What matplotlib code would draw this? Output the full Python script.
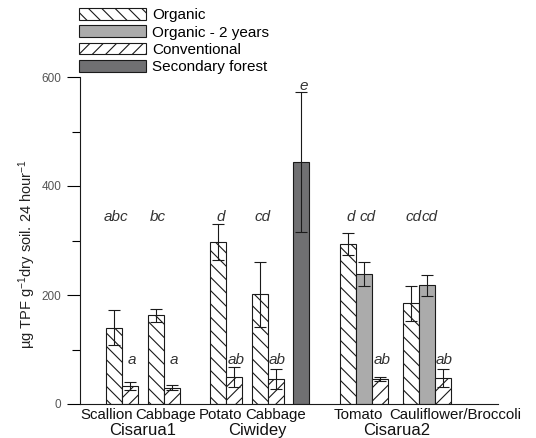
'''
Enzyme activity by crop, site and farming system
'''
import numpy
import matplotlib
matplotlib.use('Agg')
import matplotlib.pyplot  as plt
import matplotlib.patches as mpatches
import matplotlib.transforms as mtrans

DPI = 120
S   = 100 / DPI   # keeps point sizes looking as at 100 dpi

plt.rcParams['font.family']      = ['Liberation Sans', 'DejaVu Sans']
plt.rcParams['mathtext.fontset'] = 'custom'
plt.rcParams['mathtext.rm']      = 'Liberation Sans'
plt.rcParams['mathtext.it']      = 'Liberation Sans:italic'
plt.rcParams['hatch.linewidth']  = 0.8 * S
# -------------------------------------------------------
crops      = ['Scallion', 'Cabbage', 'Potato', 'Cabbage', 'Tomato', 'Cauliflower/Broccoli']
sites      = ['Cisarua1', 'Ciwidey', 'Cisarua2']

org_mean   = [140, 163, 298, 201, 293, 185]
org_err    = [ 32,  12,  33,  60,  20,  32]
org_lett   = ['abc', 'bc', 'd', 'cd', 'd', 'cd']

org2_mean  = [239, 218]
org2_err   = [ 22,  19]
org2_lett  = ['cd', 'cd']

conv_mean  = [ 33,  30,  50,  46,  46,  48]
conv_err   = [  7,   4,  18,  18,   4,  17]
conv_lett  = ['a', 'a', 'ab', 'ab', 'ab', 'ab']

forest_mean = [444]
forest_err  = [128]
forest_lett = ['e']

legend_lab = ['Organic', 'Organic - 2 years', 'Conventional', 'Secondary forest']
# -------------------------------------------------------
# layout, in bar-width units
org_x    = numpy.array([2.1, 4.73, 8.62, 11.23, 16.75, 20.67])
org2_x   = org_x[4:] + 1
conv_x   = org_x + numpy.array([1, 1, 1, 1, 2, 2])
forest_x = numpy.array([13.83])
crop_x   = [1.69, 5.34, 8.81, 12.25, 17.375, 23.44]
site_x   = [3.94, 11.06, 19.79]

col_org2   = '#ababab'
col_forest = '#707072'
ecol       = '#1a1a1a'
lw         = 0.8 * S
hatch_org  = chr(92) * 3
hatch_conv = '/' * 3
# -------------------------------------------------------
fig = plt.figure(figsize=(536/DPI, 438/DPI), dpi=DPI)
ax  = fig.add_axes([80/536, 34/438, 418/536, 327/438])

kw  = dict(width=1.0, edgecolor=ecol, linewidth=lw)
ekw = dict(ecolor=ecol, elinewidth=lw, capsize=4.5 * S, capthick=lw)

ax.bar(org_x,    org_mean,    yerr=org_err,    color='white', hatch=hatch_org,  error_kw=ekw, **kw)
ax.bar(org2_x,   org2_mean,   yerr=org2_err,   color=col_org2,                  error_kw=ekw, **kw)
ax.bar(conv_x,   conv_mean,   yerr=conv_err,   color='white', hatch=hatch_conv, error_kw=ekw, **kw)
ax.bar(forest_x, forest_mean, yerr=forest_err, color=col_forest,                error_kw=ekw, **kw)

lkw = dict(ha='center', va='center', style='italic', fontsize=11 * S, color='#333333')
for xv, lab in zip(org_x, org_lett):
    ax.text(xv + 0.15, 343, lab, **lkw)
for xv, lab in zip(org2_x, org2_lett):
    ax.text(xv + 0.2, 343, lab, **lkw)
for xv, lab in zip(conv_x, conv_lett):
    ax.text(xv + 0.12, 80, lab, **lkw)
for xv, lab in zip(forest_x, forest_lett):
    ax.text(xv + 0.15, 583, lab, **lkw)

ax.set_xlim(0, 418/16)
ax.set_ylim(0, 600)

ax.set_xticks(crop_x)
ax.set_xticklabels(crops, fontsize=10.8 * S, color='#111111')
ax.tick_params(axis='x', length=0, pad=3 * S)

trans = mtrans.blended_transform_factory(ax.transData, ax.transAxes)
for xv, lab in zip(site_x, sites):
    ax.text(xv, -0.08, lab, transform=trans, ha='center', va='center', fontsize=12 * S, color='#111111')

ax.set_yticks([0, 200, 400, 600])
ax.set_yticks([100, 300, 500], minor=True)
ax.tick_params(axis='y', which='major', length=9.5 * S, width=lw, labelsize=8.5 * S, labelcolor='#555555', pad=4 * S)
ax.tick_params(axis='y', which='minor', length=6 * S, width=lw)
ax.set_ylabel(r'µg TPF g$^{-1}$dry soil. 24 hour$^{-1}$', fontsize=10.5 * S, color='#222222')
ax.yaxis.set_label_coords(-0.10, 0.46)

for side in ['top', 'right']:
    ax.spines[side].set_visible(False)
for side in ['left', 'bottom']:
    ax.spines[side].set_linewidth(lw)
    ax.spines[side].set_color(ecol)

handles = [
    mpatches.Patch(facecolor='white',    edgecolor=ecol, hatch=hatch_org,  linewidth=lw),
    mpatches.Patch(facecolor=col_org2,   edgecolor=ecol, linewidth=lw),
    mpatches.Patch(facecolor='white',    edgecolor=ecol, hatch=hatch_conv, linewidth=lw),
    mpatches.Patch(facecolor=col_forest, edgecolor=ecol, linewidth=lw)]

fig.legend(
        handles, legend_lab,
        loc='upper left',
        bbox_to_anchor=(79/536, 1 - 8/438),
        frameon=False,
        fontsize=11 * S,
        handlelength=4.4,
        handleheight=0.82,
        handletextpad=0.4,
        labelspacing=0.2,
        borderpad=0,
        borderaxespad=0)

fig.savefig('out.png', dpi=DPI)
plt.close(fig)
